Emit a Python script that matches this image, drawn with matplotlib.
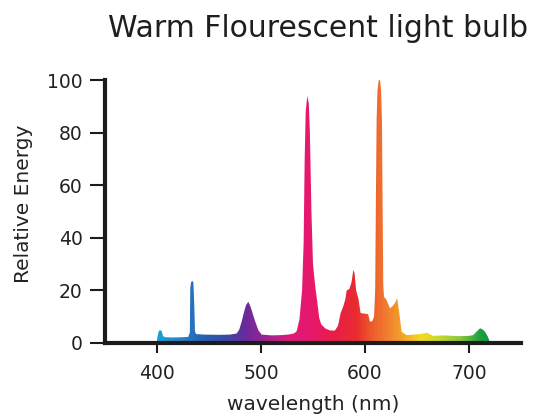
import numpy as np
import matplotlib.pyplot as plt
from matplotlib.colors import LinearSegmentedColormap
from matplotlib.patches import Polygon

plt.rcParams['font.family'] = ['DejaVu Sans']

# spectrum (nm, relative energy)
wavelength = [399.5, 400.5, 401.8, 403.0, 404.5, 405.8, 408, 415, 425, 430, 431.6, 432.0,
              432.8, 434.0, 435.0, 435.8, 436.5, 437.5, 445, 460, 470, 476.5, 479, 481.4,
              483.5, 485.6, 487.8, 489.5, 491, 494, 497.4, 500.6, 510, 520, 528, 532,
              534.3, 537, 539.5, 541, 542, 543, 544.5, 546, 547, 548.5, 550, 552, 554,
              556, 558, 562, 566, 571, 574, 576.6, 579, 581, 582.4, 585, 587, 588.8,
              590, 591.5, 593.6, 595.8, 599, 603, 604.8, 607, 608.7, 609.8, 610.5,
              611.2, 612, 613, 613.8, 614.6, 615.5, 616.3, 617.0, 617.6, 618.3, 620.8,
              624, 626.5, 628.8, 631, 633, 635.2, 640, 647, 653, 659.3, 665.5, 675,
              690, 700, 704, 707, 710.6, 713, 715.4, 718, 720.5]
energy = [0, 2.5, 4.6, 4.9, 4.5, 2.6, 2.2, 2.1, 2.2, 2.3, 4.0, 21.0,
          23.2, 23.6, 23.0, 15.0, 4.5, 3.4, 3.2, 3.1, 3.2, 3.6, 5.0, 8.1,
          11.5, 14.4, 15.7, 14.2, 12.5, 8.7, 4.9, 3.2, 2.9, 3.0, 3.3, 3.7,
          4.5, 9.0, 20, 38, 70, 88, 94, 91, 80, 50, 30, 22, 16,
          9.5, 7.0, 5.5, 4.8, 4.7, 6.5, 11.4, 13.8, 16.5, 20, 20.5, 23, 27.8,
          26.5, 20, 17, 11.4, 11.2, 11.0, 8.1, 8.3, 10, 20, 55,
          85, 96, 99.5, 100.5, 99.5, 96, 85, 50, 22, 17.6, 16.3,
          13.2, 14.0, 15.2, 17, 11.4, 4.3, 3.0, 3.2, 3.4, 3.9, 2.7, 2.9,
          2.6, 2.7, 3.0, 4.2, 5.6, 5.2, 4.3, 2.5, 0]

x_ticks = [400, 500, 600, 700]
y_ticks = [0, 20, 40, 60, 80, 100]

# rainbow used to paint the area under the curve
stops = [(400, '#17a3d8'), (425, '#2a7cc6'), (445, '#2560b0'), (465, '#3a4aa6'),
         (485, '#6a2a9c'), (505, '#a02490'), (528, '#de1a7a'), (550, '#e8186a'),
         (572, '#e81e46'), (592, '#e92c30'), (606, '#ee5a2a'), (620, '#f07a30'),
         (636, '#f4a228'), (655, '#f2dc1c'), (672, '#c4d830'), (692, '#8cc63a'),
         (712, '#1e9e42'), (722, '#16963c')]
lo, hi = stops[0][0], stops[-1][0]
cmap = LinearSegmentedColormap.from_list(
    'spec', [((w - lo) / (hi - lo), c) for w, c in stops])

fig = plt.figure(figsize=(5.44, 4.15), dpi=100)
ax = fig.add_axes([0.193, 0.1735, 0.7647, 0.6335])

grad = np.linspace(lo, hi, 600)[None, :]
im = ax.imshow(grad, extent=[lo, hi, 0, 101], aspect='auto', cmap=cmap,
               origin='lower', interpolation='bilinear', zorder=1)
shape = Polygon(np.column_stack([wavelength, energy]), closed=True,
                facecolor='none', edgecolor='none', transform=ax.transData)
ax.add_patch(shape)
im.set_clip_path(shape)

ax.set_xlim(350, 750)
ax.set_ylim(0, 100)
ax.set_xticks(x_ticks)
ax.set_yticks(y_ticks)

dark = '#1c1c1c'
for s in ['top', 'right']:
    ax.spines[s].set_visible(False)
for s in ['left', 'bottom']:
    ax.spines[s].set_linewidth(3)
    ax.spines[s].set_color(dark)
    ax.spines[s].set_zorder(3)
ax.tick_params(axis='y', length=11, width=1.5, color=dark, pad=5,
               labelsize=13.5, labelcolor='#222222')
ax.tick_params(axis='x', length=7, width=1.5, color=dark, pad=8,
               labelsize=13.5, labelcolor='#222222')

ax.set_xlabel('wavelength (nm)', fontsize=14.5, color='#222222', labelpad=9)
ax.set_ylabel('Relative Energy', fontsize=14.5, color='#222222')
ax.yaxis.set_label_coords(-0.172, 0.53)

fig.text(0.585, 0.932, 'Warm Flourescent light bulb', fontsize=21.5,
         color='#1e1e1e', ha='center', va='center')

plt.savefig('out.png', dpi=100)
plt.close()
